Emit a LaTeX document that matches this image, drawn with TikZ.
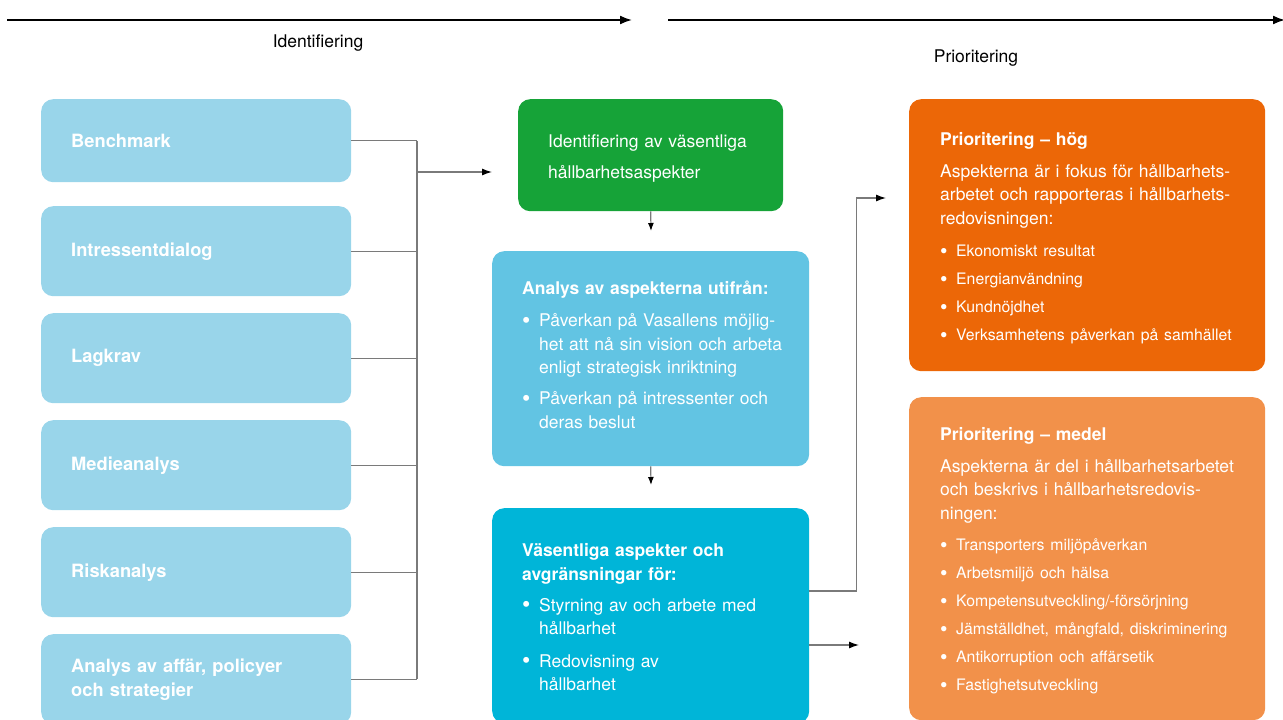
\documentclass[tikz,border=0pt]{standalone}
\usepackage{fontspec}
\setmainfont{TeX Gyre Heros}
\usetikzlibrary{arrows.meta,positioning}
\definecolor{srcblue}{HTML}{99D5EA}
\definecolor{idgreen}{HTML}{16A338}
\definecolor{anablue}{HTML}{62C4E3}
\definecolor{vasblue}{HTML}{00B5D8}
\definecolor{hogorange}{HTML}{EC6707}
\definecolor{medorange}{HTML}{F2914A}
\definecolor{linegray}{HTML}{7A7A7A}
\setlength{\parindent}{0pt}
\setlength{\parskip}{0pt}
% punkt och indragen fortsaettningsrad
\newcommand{\blt}[2][17pt]{\makebox[#1][l]{\raisebox{-1.8pt}{\scalebox{1.35}{\textbullet}}}#2\par}
\newcommand{\nl}[1][17pt]{\\\hspace*{#1}}
\tikzset{
	boxbg/.style = {rounded corners=12pt, inner sep=0pt, anchor=north west},
	srcbox/.style = {boxbg, fill=srcblue, text=white, align=left,
		text width=250pt, inner xsep=30pt, minimum height=90pt,
		font=\fontsize{18.3}{24}\selectfont\bfseries},% kaellor till vaenster
	boxtext/.style = {text=white, align=left, inner sep=0pt, text width=#1,
		font=\fontsize{17.5}{23.5}\selectfont},% text i rutorna
	steplabel/.style = {font=\fontsize{17.5}{21}\selectfont},
	conn/.style = {draw=linegray, line width=1.4pt},
	arr/.style = {draw=linegray, line width=1.2pt,
		-{Latex[length=10pt,width=7pt,color=black]}},
	toparr/.style = {draw=black, line width=1.8pt,
		-{Latex[length=12pt,width=9pt]}}
}
\begin{document}
\begin{tikzpicture}[x=1pt,y=-1pt]
\clip (0,0) rectangle (1283,720);
% pilar och faser
\coordinate (ida) at (7,20);
\coordinate (idb) at (632,20);
\coordinate (pra) at (668,20);
\coordinate (prb) at (1285,20);
\draw[toparr] (ida) -- (idb);
\draw[toparr] (pra) -- (prb);
\node[steplabel] (idlbl) at (318,43) {Identifiering};
\node[steplabel] (prlbl) at (976,58) {Prioritering};

% kaellor
\node[srcbox, minimum height=83pt] (bench) at (41,99) {Benchmark};
\node[srcbox] (dialog) at (41,206) {Intressentdialog};
\node[srcbox] (lag) at (41,313) {Lagkrav};
\node[srcbox] (media) at (41,420) {Medieanalys};
\node[srcbox] (risk) at (41,527) {Riskanalys};
\node[srcbox] (strat) at (41,634) {Analys av affär, policyer\\och strategier};

% mittkolumnen
\node[boxbg, fill=idgreen, minimum width=265pt, minimum height=112pt] (green) at (518,99) {};
\node[boxtext=215pt, font=\fontsize{17.5}{31}\selectfont, right=30pt of green.west, yshift=-3pt] (greentxt)
	{Identifiering av väsentliga\\hållbarhetsaspekter};

\node[boxbg, fill=anablue, minimum width=317pt, minimum height=215pt] (ana) at (492,251) {};
\node[boxtext=280pt, right=30pt of ana.west, yshift=4pt] (anatxt) {%
	{\bfseries Analys av aspekterna utifrån:}\par\vspace{9pt}
	\blt{Påverkan på Vasallens möjlig-\nl het att nå sin vision och arbeta\nl enligt strategisk inriktning}
	\vspace{7.5pt}
	\blt{Påverkan på intressenter och\nl deras beslut}};

\node[boxbg, fill=vasblue, minimum width=317pt, minimum height=215pt] (vas) at (492,508) {};
\node[boxtext=280pt, right=30pt of vas.west, yshift=-1.5pt] (vastxt) {%
	{\bfseries Väsentliga aspekter och\\avgränsningar för:}\par\vspace{7.5pt}
	\blt{Styrning av och arbete med\nl hållbarhet}
	\vspace{9pt}
	\blt{Redovisning av\nl hållbarhet}};

% prioritering
\node[boxbg, fill=hogorange, minimum width=356pt, minimum height=272pt] (hog) at (909,99) {};
\node[boxtext=320pt, right=31pt of hog.west, yshift=-3pt] (hogtxt) {%
	{\bfseries Prioritering – hög}\par\vspace{8pt}
	Aspekterna är i fokus för hållbarhets-\\arbetet och rapporteras i hållbarhets-\\redovisningen:\par\vspace{4pt}
	{\fontsize{15.8}{28}\selectfont
	\blt[16pt]{Ekonomiskt resultat}
	\blt[16pt]{Energianvändning}
	\blt[16pt]{Kundnöjdhet}
	\blt[16pt]{Verksamhetens påverkan på samhället}}};

\node[boxbg, fill=medorange, minimum width=356pt, minimum height=323pt] (med) at (909,397) {};
\node[boxtext=320pt, right=31pt of med.west, yshift=-2pt] (medtxt) {%
	{\bfseries Prioritering – medel}\par\vspace{8pt}
	Aspekterna är del i hållbarhetsarbetet\\och beskrivs i hållbarhetsredovis-\\ningen:\par\vspace{3pt}
	{\fontsize{15.8}{28}\selectfont
	\blt[16pt]{Transporters miljöpåverkan}
	\blt[16pt]{Arbetsmiljö och hälsa}
	\blt[16pt]{Kompetensutveckling/-försörjning}
	\blt[16pt]{Jämställdhet, mångfald, diskriminering}
	\blt[16pt]{Antikorruption och affärsetik}
	\blt[16pt]{Fastighetsutveckling}}};

% kopplingar
\coordinate (spine) at (417,0);
\foreach \n in {bench,dialog,lag,media,risk,strat}
	\draw[conn] (\n.east) -- (\n.east -| spine);
\draw[conn] (bench.east -| spine) -- (strat.east -| spine);
\coordinate (idin) at (492,172);
\draw[arr] (spine |- idin) -- (idin);

\coordinate (grnout) at (651,231);
\coordinate (anaout) at (651,485);
\draw[arr, -{Latex[length=8pt,width=6pt,color=black]}] (green.south) -- (grnout);
\draw[arr, -{Latex[length=8pt,width=6pt,color=black]}] (ana.south) -- (anaout);

\coordinate (hogin) at (886,198);
\coordinate (medin) at (859,645);
\draw[arr] (vas.east |- 0,591) -- ++(47,0) |- (hogin);
\draw[arr] (vas.east |- medin) -- (medin);
\end{tikzpicture}
\end{document}
